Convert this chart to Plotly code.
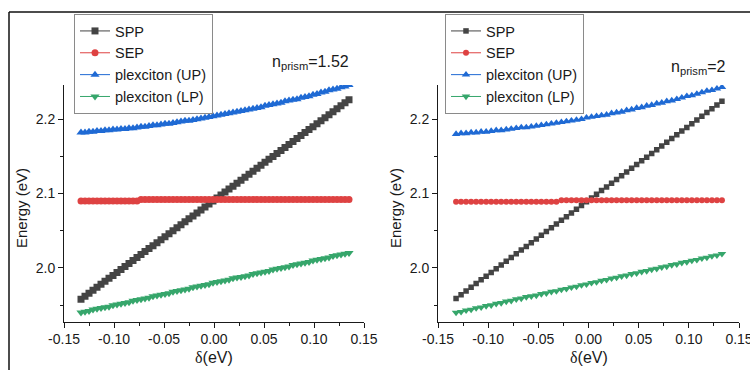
import plotly.graph_objects as go

# ---- detuning grids (eV) ----
delta_a = [-0.133, -0.129, -0.125, -0.121, -0.117, -0.113, -0.109, -0.105, -0.101, -0.097,
           -0.093, -0.089, -0.085, -0.081, -0.077, -0.073, -0.069, -0.065, -0.061, -0.057,
           -0.053, -0.049, -0.045, -0.041, -0.037, -0.033, -0.029, -0.025, -0.021, -0.017,
           -0.013, -0.009, -0.005, -0.001, 0.003, 0.007, 0.011, 0.015, 0.019, 0.023,
           0.027, 0.031, 0.035, 0.039, 0.043, 0.047, 0.051, 0.055, 0.059, 0.063,
           0.067, 0.071, 0.075, 0.079, 0.083, 0.087, 0.091, 0.095, 0.099, 0.103,
           0.107, 0.111, 0.115, 0.119, 0.123, 0.127, 0.131, 0.135]

delta_b = [-0.132, -0.127, -0.122, -0.117, -0.112, -0.107, -0.102, -0.097, -0.092, -0.087,
           -0.082, -0.077, -0.072, -0.067, -0.062, -0.057, -0.052, -0.047, -0.042, -0.037,
           -0.032, -0.027, -0.022, -0.017, -0.012, -0.007, -0.002, 0.003, 0.008, 0.013,
           0.018, 0.023, 0.028, 0.033, 0.038, 0.043, 0.048, 0.053, 0.058, 0.063,
           0.068, 0.073, 0.078, 0.083, 0.088, 0.093, 0.098, 0.103, 0.108, 0.113,
           0.118, 0.123, 0.128, 0.133]

# ---- n_prism = 1.52 ----
spp_a = [1.958, 1.962, 1.966, 1.970, 1.974, 1.978, 1.982, 1.986, 1.990, 1.994,
         1.998, 2.002, 2.006, 2.010, 2.014, 2.018, 2.022, 2.026, 2.030, 2.034,
         2.038, 2.042, 2.046, 2.050, 2.054, 2.058, 2.062, 2.066, 2.070, 2.074,
         2.078, 2.082, 2.086, 2.090, 2.094, 2.098, 2.102, 2.106, 2.110, 2.114,
         2.118, 2.122, 2.126, 2.130, 2.134, 2.138, 2.142, 2.146, 2.150, 2.154,
         2.158, 2.162, 2.166, 2.170, 2.174, 2.178, 2.182, 2.186, 2.190, 2.194,
         2.198, 2.202, 2.206, 2.210, 2.214, 2.218, 2.222, 2.226]
sep_a = [2.090, 2.090, 2.090, 2.090, 2.090, 2.090, 2.090, 2.090, 2.090, 2.090,
         2.090, 2.090, 2.090, 2.090, 2.090, 2.092, 2.092, 2.092, 2.092, 2.092,
         2.092, 2.092, 2.092, 2.092, 2.092, 2.092, 2.092, 2.092, 2.092, 2.092,
         2.092, 2.092, 2.092, 2.092, 2.092, 2.092, 2.092, 2.092, 2.092, 2.092,
         2.092, 2.092, 2.092, 2.092, 2.092, 2.092, 2.092, 2.092, 2.092, 2.092,
         2.092, 2.092, 2.092, 2.092, 2.092, 2.092, 2.092, 2.092, 2.092, 2.092,
         2.092, 2.092, 2.092, 2.092, 2.092, 2.092, 2.092, 2.092]
up_a = [2.182, 2.182, 2.183, 2.183, 2.184, 2.184, 2.185, 2.185, 2.186, 2.186,
        2.187, 2.187, 2.188, 2.188, 2.189, 2.190, 2.190, 2.191, 2.192, 2.192,
        2.193, 2.194, 2.194, 2.195, 2.196, 2.197, 2.198, 2.198, 2.199, 2.200,
        2.201, 2.202, 2.203, 2.204, 2.205, 2.206, 2.207, 2.208, 2.209, 2.210,
        2.211, 2.212, 2.213, 2.214, 2.215, 2.216, 2.218, 2.219, 2.220, 2.221,
        2.222, 2.224, 2.225, 2.226, 2.227, 2.229, 2.230, 2.231, 2.233, 2.234,
        2.236, 2.237, 2.239, 2.240, 2.241, 2.243, 2.244, 2.246]
lp_a = [1.940, 1.941, 1.942, 1.944, 1.945, 1.946, 1.947, 1.948, 1.950, 1.951,
        1.952, 1.953, 1.954, 1.956, 1.957, 1.958, 1.959, 1.960, 1.962, 1.963,
        1.964, 1.965, 1.966, 1.968, 1.969, 1.970, 1.971, 1.972, 1.974, 1.975,
        1.976, 1.977, 1.978, 1.980, 1.981, 1.982, 1.983, 1.984, 1.986, 1.987,
        1.988, 1.989, 1.990, 1.992, 1.993, 1.994, 1.995, 1.996, 1.998, 1.999,
        2.000, 2.001, 2.002, 2.004, 2.005, 2.006, 2.007, 2.008, 2.010, 2.011,
        2.012, 2.013, 2.014, 2.016, 2.017, 2.018, 2.019, 2.020]

# ---- n_prism = 2 ----
spp_b = [1.959, 1.964, 1.969, 1.974, 1.979, 1.984, 1.989, 1.994, 1.999, 2.004,
         2.009, 2.014, 2.019, 2.024, 2.029, 2.034, 2.039, 2.044, 2.049, 2.054,
         2.059, 2.064, 2.069, 2.074, 2.079, 2.084, 2.089, 2.094, 2.099, 2.104,
         2.109, 2.114, 2.119, 2.124, 2.129, 2.134, 2.139, 2.144, 2.149, 2.154,
         2.159, 2.164, 2.169, 2.174, 2.179, 2.184, 2.189, 2.194, 2.199, 2.204,
         2.209, 2.214, 2.219, 2.224]
sep_b = [2.089, 2.089, 2.089, 2.089, 2.089, 2.089, 2.089, 2.089, 2.089, 2.089,
         2.089, 2.089, 2.089, 2.089, 2.089, 2.089, 2.089, 2.089, 2.089, 2.089,
         2.089, 2.091, 2.091, 2.091, 2.091, 2.091, 2.091, 2.091, 2.091, 2.091,
         2.091, 2.091, 2.091, 2.091, 2.091, 2.091, 2.091, 2.091, 2.091, 2.091,
         2.091, 2.091, 2.091, 2.091, 2.091, 2.091, 2.091, 2.091, 2.091, 2.091,
         2.091, 2.091, 2.091, 2.091]
up_b = [2.180, 2.181, 2.181, 2.182, 2.182, 2.183, 2.183, 2.184, 2.185, 2.185,
        2.186, 2.187, 2.188, 2.189, 2.189, 2.190, 2.191, 2.192, 2.193, 2.194,
        2.195, 2.196, 2.197, 2.198, 2.199, 2.200, 2.202, 2.203, 2.204, 2.205,
        2.206, 2.208, 2.209, 2.210, 2.212, 2.213, 2.215, 2.216, 2.218, 2.219,
        2.221, 2.222, 2.224, 2.225, 2.227, 2.229, 2.231, 2.232, 2.234, 2.236,
        2.238, 2.239, 2.241, 2.243]
lp_b = [1.940, 1.941, 1.943, 1.944, 1.946, 1.947, 1.949, 1.950, 1.952, 1.953,
        1.955, 1.956, 1.958, 1.959, 1.961, 1.962, 1.963, 1.965, 1.966, 1.968,
        1.969, 1.971, 1.972, 1.974, 1.975, 1.977, 1.978, 1.980, 1.981, 1.983,
        1.984, 1.986, 1.987, 1.989, 1.990, 1.992, 1.993, 1.995, 1.996, 1.998,
        1.999, 2.001, 2.002, 2.004, 2.005, 2.007, 2.008, 2.010, 2.011, 2.013,
        2.014, 2.016, 2.017, 2.019]

series_names = ["SPP", "SEP", "plexciton (UP)", "plexciton (LP)"]

# ---- axis ticks ----
x_tick_vals = [-0.15, -0.10, -0.05, 0.00, 0.05, 0.10, 0.15]
x_tick_text = ["-0.15", "-0.10", "-0.05", "0.00", "0.05", "0.10", "0.15"]
x_minor_vals = [-0.125, -0.075, -0.025, 0.025, 0.075, 0.125]
y_tick_vals = [2.0, 2.1, 2.2]
y_tick_text = ["2.0", "2.1", "2.2"]
y_minor_vals = [1.95, 2.05, 2.15]

colors = ["#444444", "#de4242", "#1f6ad4", "#36a66b"]
symbols = ["square", "circle", "triangle-up", "triangle-down"]

FONT = "Liberation Sans, Arial, sans-serif"
INK = "#1a1a1a"

fig = go.Figure()

# dense sampling on the left panel, sparser (smaller symbols) on the right
panels = [
    (delta_a, [spp_a, sep_a, up_a, lp_a], "x", "y", "legend", [7, 7, 8, 8]),
    (delta_b, [spp_b, sep_b, up_b, lp_b], "x2", "y2", "legend2", [5.5, 6, 7.5, 7.5]),
]
for xs, ys_list, xa, ya, lg, sizes in panels:
    for name, ys, c, sym, sz in zip(series_names, ys_list, colors, symbols, sizes):
        fig.add_trace(go.Scatter(
            x=xs, y=ys, name=name, mode="lines+markers",
            line=dict(color=c, width=1),
            marker=dict(symbol=sym, size=sz, color=c, line=dict(width=0)),
            xaxis=xa, yaxis=ya, legend=lg,
        ))

xdom1 = [64 / 750, 364 / 750]
xdom2 = [438 / 750, 739 / 750]
ydom = [48.5 / 370, 285 / 370]

def xaxis_style(domain, anchor):
    return dict(
        domain=domain, anchor=anchor, range=[-0.15, 0.15], automargin=False,
        tickmode="array", tickvals=x_tick_vals, ticktext=x_tick_text,
        ticklabeloverflow="allow",
        showline=True, linecolor=INK, linewidth=1, mirror=False,
        ticks="outside", ticklen=5, tickwidth=1, tickcolor=INK,
        minor=dict(ticks="outside", ticklen=3, tickwidth=1, tickcolor=INK,
                   tickvals=x_minor_vals, showgrid=False),
        showgrid=False, zeroline=False,
        tickfont=dict(family=FONT, size=14, color=INK),
    )

def yaxis_style(anchor):
    return dict(
        domain=ydom, anchor=anchor, range=[1.928, 2.246], automargin=False,
        tickmode="array", tickvals=y_tick_vals, ticktext=y_tick_text,
        ticklabeloverflow="allow",
        showline=True, linecolor=INK, linewidth=1, mirror=False,
        ticks="outside", ticklen=5, tickwidth=1, tickcolor=INK,
        minor=dict(ticks="outside", ticklen=3, tickwidth=1, tickcolor=INK,
                   tickvals=y_minor_vals, showgrid=False),
        showgrid=False, zeroline=False,
        tickfont=dict(family=FONT, size=14, color=INK),
    )

legend_style = dict(
    xanchor="left", yanchor="top", y=1 - 14 / 370,
    bgcolor="white", bordercolor="#8a8a8a", borderwidth=1,
    font=dict(family=FONT, size=14.5, color=INK),
    itemwidth=30, tracegroupgap=0,
)

fig.update_layout(
    width=750, height=370,
    margin=dict(l=0, r=0, t=0, b=0, autoexpand=False),
    paper_bgcolor="white", plot_bgcolor="white",
    xaxis=xaxis_style(xdom1, "y"),
    yaxis=yaxis_style("x"),
    xaxis2=xaxis_style(xdom2, "y2"),
    yaxis2=yaxis_style("x2"),
    legend=dict(legend_style, x=74 / 750),
    legend2=dict(legend_style, x=445 / 750),
    showlegend=True,
)

# axis titles and panel labels
title_font = dict(family=FONT, size=15, color=INK)
delta_title = "<span style='font-family:Liberation Serif'>δ</span>(eV)"
for xc, ylab_x in [((xdom1[0] + xdom1[1]) / 2, 21 / 750), ((xdom2[0] + xdom2[1]) / 2, 395 / 750)]:
    fig.add_annotation(text=delta_title, x=xc, y=1 - 357 / 370, xref="paper", yref="paper",
                       showarrow=False, font=dict(title_font, size=16), xanchor="center",
                       yanchor="middle")
    fig.add_annotation(text="Energy (eV)", x=ylab_x, y=1 - 208 / 370, xref="paper", yref="paper",
                       showarrow=False, font=title_font, textangle=-90,
                       xanchor="center", yanchor="middle")

fig.add_annotation(text="n<sub>prism</sub>=1.52", x=310 / 750, y=1 - 62 / 370,
                   xref="paper", yref="paper", showarrow=False,
                   font=dict(family=FONT, size=16, color=INK), xanchor="center", yanchor="middle")
fig.add_annotation(text="n<sub>prism</sub>=2", x=698 / 750, y=1 - 67 / 370,
                   xref="paper", yref="paper", showarrow=False,
                   font=dict(family=FONT, size=16, color=INK), xanchor="center", yanchor="middle")

# outer frame edges (top and left)
frame_top = 1 - 12 / 370
fig.add_shape(type="line", xref="paper", yref="paper", x0=9 / 750, x1=1, y0=frame_top, y1=frame_top,
              line=dict(color="#111111", width=1.5))
fig.add_shape(type="line", xref="paper", yref="paper", x0=9 / 750, x1=9 / 750, y0=0, y1=frame_top,
              line=dict(color="#111111", width=1.5))

fig.write_html("out.html")
